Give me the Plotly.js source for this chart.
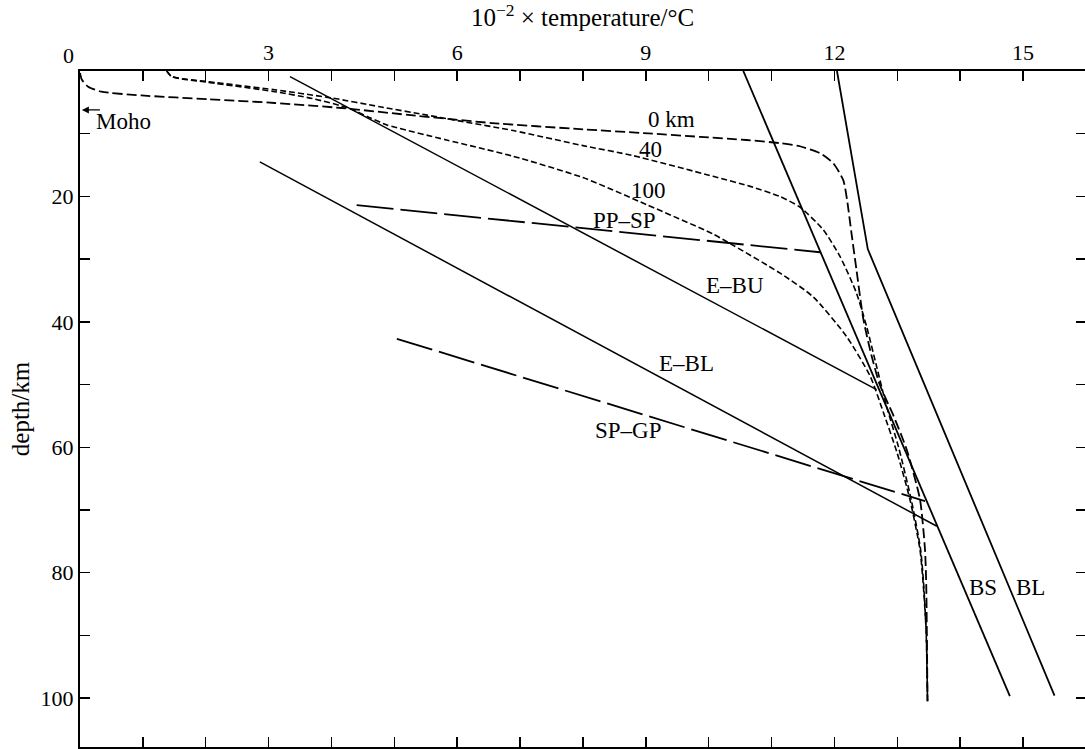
<!DOCTYPE html>
<html>
<head>
<meta charset="utf-8">
<script src="https://cdn.plot.ly/plotly-3.0.1.min.js"></script>
<style>html,body{margin:0;padding:0;background:#fff;}#chart{width:1085px;height:749px;}</style>
</head>
<body>
<div id="chart"></div>
<script>
// ---- data (x = 10^-2 x temperature / °C, y = depth / km) ----
const bsTemp = [10.55, 14.79];
const bsDepth = [0, 99.7];
const blTemp = [12.04, 12.53, 15.5];
const blDepth = [0, 28.4, 99.6];
const ebuTemp = [3.34, 12.67];
const ebuDepth = [0.9, 50.8];
const eblTemp = [2.86, 13.63];
const eblDepth = [14.5, 72.6];
const ppspTemp = [4.40, 11.77];
const ppspDepth = [21.4, 28.9];
const spgpTemp = [5.04, 13.44];
const spgpDepth = [42.7, 68.6];

const g0Temp  = [0.0, 0.03, 0.13, 0.34, 0.98, 2.04, 3.1, 4.16, 5.22, 6.55, 8.0, 8.96, 9.86, 10.6, 11.13, 11.45, 11.77, 11.98, 12.14, 12.2, 12.27, 12.35, 12.46, 12.58, 12.72, 12.94, 13.15, 13.36, 13.44, 13.46, 13.47, 13.48];
const g0Depth = [0.3, 1.4, 2.5, 3.3, 3.9, 4.5, 5.1, 5.9, 7.0, 8.3, 9.3, 9.9, 10.5, 11.0, 11.5, 12.0, 13.1, 14.7, 17.4, 20.5, 25.8, 31.7, 39.6, 45.0, 50.0, 55.0, 60.4, 68.3, 76.3, 82.0, 90.0, 100.5];

const g40Temp  = [1.38, 1.46, 2.04, 3.1, 4.0, 4.77, 5.5, 6.0, 6.89, 8.0, 8.8, 10.07, 10.66, 11.13, 11.45, 11.82, 12.09, 12.35, 12.51, 12.67, 12.83, 13.02, 13.22, 13.37, 13.42, 13.46, 13.48];
const g40Depth = [0, 0.9, 1.7, 3.0, 4.3, 5.7, 7.0, 7.9, 9.5, 11.9, 13.5, 16.8, 18.4, 20.0, 21.7, 25.3, 29.6, 35.4, 40.7, 47.1, 53.5, 60.0, 68.3, 76.3, 82.0, 90.0, 100.5];

const g100Temp  = [1.38, 1.46, 2.04, 3.1, 3.7, 4.27, 4.6, 4.88, 5.83, 6.89, 8.0, 9.01, 10.07, 10.39, 11.13, 11.66, 12.19, 12.57, 12.78, 13.0, 13.2, 13.36, 13.41, 13.46, 13.48];
const g100Depth = [0, 0.9, 1.8, 3.3, 4.4, 5.9, 7.4, 8.6, 11.0, 13.6, 17.0, 21.3, 26.0, 27.8, 32.2, 36.0, 42.3, 48.7, 54.5, 61.0, 68.3, 76.3, 81.6, 89.5, 100.5];

const labelText  = ['0 km', '40', '100', 'PP–SP', 'E–BU', 'E–BL', 'SP–GP', 'BS', 'BL', 'Moho'];
const labelTemp  = [9.41, 9.08, 9.04, 8.66, 10.42, 9.64, 8.72, 14.36, 15.12, 0.69];
const labelDepth = [7.8, 12.5, 19.0, 23.8, 34.2, 46.7, 57.4, 82.4, 82.4, 8.1];

const mohoArrowTemp = [0.03, 0.34];
const mohoDepth = 6.2;

const xTickVals = [0,1,2,3,4,5,6,7,8,9,10,11,12,13,14,15];
const xTickText = ['', '', '', '3', '', '', '6', '', '', '9', '', '', '12', '', '', '15'];
const yTickVals = [0,10,20,30,40,50,60,70,80,90,100];
const yTickText = ['', '', '20', '', '40', '', '60', '', '80', '', '100'];
const yRightTickVals = [10,20,30,40,50,60,70,80,90,100];

const FONT = 'Liberation Serif, Times New Roman, serif';

function line(x, y, width, dash, smooth) {
  const l = {color: '#000', width: width, dash: dash || 'solid'};
  if (smooth) { l.shape = 'spline'; l.smoothing = 0.6; }
  return {x: x, y: y, type: 'scatter', mode: 'lines', hoverinfo: 'skip', showlegend: false, line: l};
}

const traces = [
  line(bsTemp, bsDepth, 1.8),
  line(blTemp, blDepth, 1.8),
  line(ebuTemp, ebuDepth, 1.5),
  line(eblTemp, eblDepth, 1.5),
  line(ppspTemp, ppspDepth, 1.8, '37px,7px'),
  line(spgpTemp, spgpDepth, 1.8, '37px,7px'),
  line(g0Temp, g0Depth, 1.8, '10px,4px', true),
  line(g40Temp, g40Depth, 1.6, '6px,3px', true),
  line(g100Temp, g100Depth, 1.6, '6px,3px', true),
  {x: [], y: [], type: 'scatter', mode: 'lines', yaxis: 'y2', showlegend: false, hoverinfo: 'skip'}
];

const annotations = labelText.map((t, i) => ({
  x: labelTemp[i], y: labelDepth[i], xref: 'x', yref: 'y', text: t, showarrow: false,
  font: {family: FONT, size: 23, color: '#000'}, xanchor: 'center', yanchor: 'middle'
}));
annotations.push({
  x: mohoArrowTemp[0], y: mohoDepth, ax: mohoArrowTemp[1], ay: mohoDepth,
  xref: 'x', yref: 'y', axref: 'x', ayref: 'y', text: '', showarrow: true,
  arrowhead: 2, arrowsize: 1, arrowwidth: 1.4, arrowcolor: '#000'
});
annotations.push({
  x: 0, y: 1, xref: 'x', yref: 'paper', text: '0', showarrow: false, xshift: -12, yshift: 1,
  xanchor: 'center', yanchor: 'bottom', font: {family: FONT, size: 22, color: '#000'}
});

const layout = {
  width: 1085, height: 749,
  margin: {l: 80, r: 0, t: 71, b: 2, pad: 0},
  paper_bgcolor: '#fff', plot_bgcolor: '#fff',
  font: {family: FONT, size: 22, color: '#000'},
  showlegend: false,
  xaxis: {
    side: 'top', range: [0, 15.985], tickmode: 'array', tickvals: xTickVals, ticktext: xTickText,
    ticks: 'inside', ticklen: 10, tickwidth: 1.5, tickcolor: '#000',
    showline: true, linewidth: 2, linecolor: '#000', mirror: 'ticks',
    showgrid: false, zeroline: false,
    tickfont: {family: FONT, size: 22, color: '#000'},
    title: {text: '10<sup>−2</sup> × temperature/°C', font: {family: FONT, size: 25, color: '#000'}, standoff: 8}
  },
  yaxis: {
    range: [107.8, 0], tickmode: 'array', tickvals: yTickVals, ticktext: yTickText,
    ticks: 'inside', ticklen: 10, tickwidth: 1.5, tickcolor: '#000',
    showline: true, linewidth: 2, linecolor: '#000', mirror: false,
    showgrid: false, zeroline: false,
    tickfont: {family: FONT, size: 22, color: '#000'},
    title: {text: 'depth/km', font: {family: FONT, size: 25, color: '#000'}, standoff: 4}
  },
  yaxis2: {
    overlaying: 'y', side: 'right', range: [107.8, 0], tickmode: 'array', tickvals: yRightTickVals,
    ticks: 'inside', ticklen: 9, tickwidth: 1.5, tickcolor: '#000',
    showline: false, showgrid: false, zeroline: false, showticklabels: false
  },
  annotations: annotations
};

Plotly.newPlot('chart', traces, layout, {staticPlot: true, displayModeBar: false});
</script>
</body>
</html>
